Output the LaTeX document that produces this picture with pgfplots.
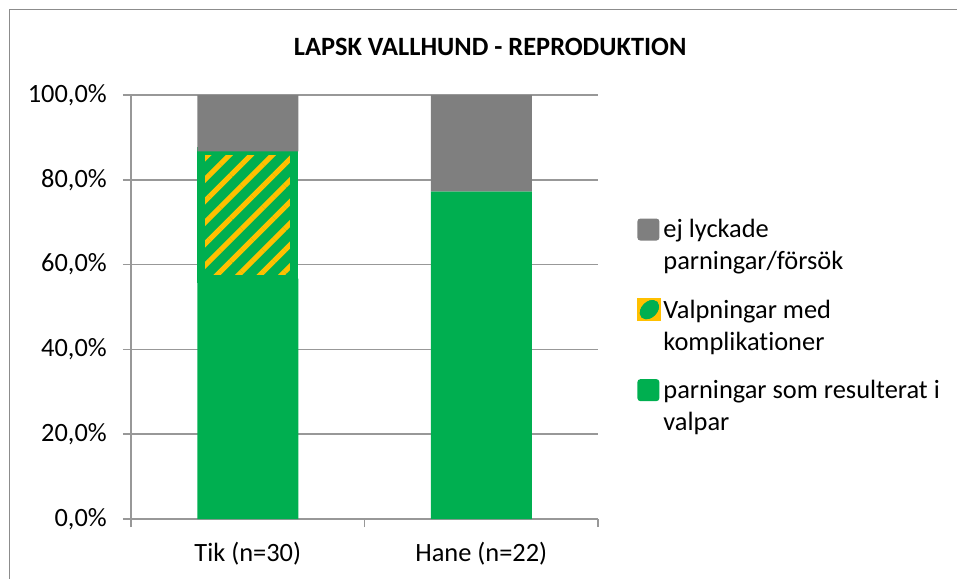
\documentclass[border=0pt]{standalone}
\usepackage{fontspec}
\setmainfont{Carlito}[Ligatures=NoCommon]
\usepackage{pgfplots}
\pgfplotsset{compat=1.18}
\usetikzlibrary{patterns.meta}
\definecolor{cGreen}{HTML}{00AF50}
\definecolor{cYellow}{HTML}{FFC000}
\definecolor{cGray}{HTML}{7F7F7F}
\definecolor{cGrid}{HTML}{989898}
\definecolor{cFrame}{HTML}{8C8C8C}
\newcommand{\chartfont}{\fontsize{13.2pt}{16pt}\selectfont}
% invisible box that sets the size of a legend image
\newcommand{\legendbox}{\pgfpathrectangle{\pgfpoint{0pt}{-5.5pt}}{\pgfpoint{11pt}{11pt}}\pgfusepath{use as bounding box}}

\begin{document}
\chartfont
\begin{tikzpicture}[font=\chartfont]
\useasboundingbox (0,0) rectangle (478.5pt,-289pt);
\draw[cFrame, line width=0.9pt] (4.75pt,-292pt) -- (4.75pt,-4.75pt) -- (482pt,-4.75pt);
\begin{axis}[
  at={(65.5pt,-259.5pt)}, anchor=south west,
  scale only axis, width=233.5pt, height=212pt,
  ybar stacked, bar width=50.5pt, reverse stacked plots=false,
  xmin=-0.5, xmax=1.5, ymin=0, ymax=100,
  axis x line*=bottom, axis y line*=left,
  axis line style={cGrid, line width=0.75pt},
  ytick={0,20,...,100},
  yticklabels={{0,0\%},{20,0\%},{40,0\%},{60,0\%},{80,0\%},{100,0\%}},
  yticklabel style={xshift=-3.5pt},
  ymajorgrids, grid style={cGrid, line width=0.75pt},
  tick align=outside, major tick length=4pt,
  tick style={cGrid, line width=0.75pt},
  xtick={-0.5,0.5,1.5}, xticklabels={},
  extra x ticks={0,1}, extra x tick labels={Tik (n=30),Hane (n=22)},
  extra x tick style={major tick length=0pt, xticklabel style={yshift=-7pt}},
  title={\bfseries LAPSK VALLHUND - REPRODUKTION},
  title style={at={(0.769,1.094)}, anchor=base, yshift=-6pt},
  legend style={at={(1.0835,0.717)}, anchor=north west, draw=none, fill=none,
    cells={align=left}, row sep=9pt, inner sep=0pt},
  legend cell align=left,
  reverse legend,
]
\addplot[fill=cGreen, draw=none,
  legend image code/.code={\legendbox
    \fill[overlay, cGreen, rounded corners=1.5pt] (0pt,3pt) rectangle (11pt,14pt);}]
  coordinates {(0,56.7) (1,77.3)};
\addlegendentry{parningar som resulterat i\\valpar}
\addplot[bar width=46.5pt, preaction={fill=cGreen},
  pattern={Lines[angle=45,distance=7.6pt,line width=2.6pt]}, pattern color=cYellow,
  draw=cGreen, line width=4pt,
  legend image code/.code={\legendbox
    \fill[overlay, cYellow] (2pt,4.8pt) rectangle (10pt,12.4pt);
    \fill[overlay, cGreen, rotate around={45:(6pt,8.6pt)}] (6pt,8.6pt) ellipse (3.4pt and 1.9pt);}]
  coordinates {(0,30.0) (1,0)};
\addlegendentry{Valpningar med\\komplikationer}
\addplot[fill=cGray, draw=none,
  legend image code/.code={\legendbox
    \fill[overlay, cGray, rounded corners=1.5pt] (0pt,3pt) rectangle (11pt,14pt);}]
  coordinates {(0,13.3) (1,22.7)};
\addlegendentry{ej lyckade\\parningar/försök}
\end{axis}
\end{tikzpicture}
\end{document}
